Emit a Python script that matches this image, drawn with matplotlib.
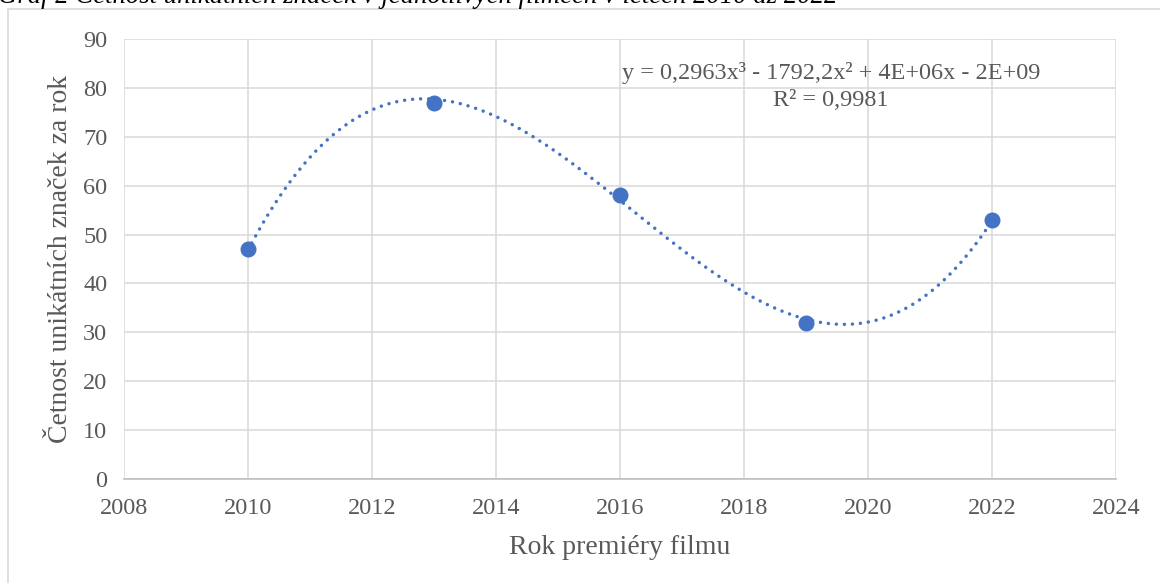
import numpy as np
import matplotlib.pyplot as plt
from matplotlib.patches import Rectangle

plt.rcParams['font.family'] = ['Liberation Serif', 'DejaVu Serif']

years = [2010, 2013, 2016, 2019, 2022]
counts = [47, 77, 58, 32, 53]
x_ticks = list(range(2008, 2025, 2))
y_ticks = list(range(0, 91, 10))

title = 'Graf 2 Četnost unikátních značek v jednotlivých filmech v letech 2010 až 2022'
equation = 'y = 0,2963x³ - 1792,2x² + 4E+06x - 2E+09\nR² = 0,9981'

blue = '#4472C4'
grey_text = '#595959'
grid_col = '#D9D9D9'

fig = plt.figure(figsize=(11.6, 5.83), dpi=100)
ax = fig.add_axes([0.1069, 0.1784, 0.8552, 0.7547])

# outer chart frame, cut off by the picture on the right and bottom
fig.patches.append(Rectangle((8 / 1160, -0.05), 1.2, 1 - 9 / 583 + 0.05,
                             transform=fig.transFigure, fill=False,
                             edgecolor=grid_col, linewidth=1.2))

# title partly clipped by the top edge
fig.text(-0.002, 1 - 3 / 583, title, fontsize=19.3, style='italic',
         color='black', ha='left', va='baseline')

# cubic trend line (Excel-like polynomial fit)
coef = np.polyfit(years, counts, 3)
xs = np.linspace(min(years), max(years), 300)
ax.plot(xs, np.polyval(coef, xs), color=blue, linewidth=2.5,
        linestyle=(0, (0.01, 2.3)), dash_capstyle='round', zorder=3)

ax.plot(years, counts, 'o', color=blue, markersize=10.5, zorder=4)

ax.set_xlim(2008, 2024)
ax.set_ylim(0, 90)
ax.set_xticks(x_ticks)
ax.set_yticks(y_ticks)
ax.grid(True, color=grid_col, linewidth=1.1)
ax.set_axisbelow(True)
for s in ['top', 'right', 'left']:
    ax.spines[s].set_visible(False)
ax.spines['bottom'].set_color('#BFBFBF')
ax.spines['bottom'].set_linewidth(1.2)
ax.tick_params(length=0, labelsize=17.5, colors=grey_text)
ax.tick_params(axis='x', pad=14)
ax.tick_params(axis='y', pad=12)

ax.set_xlabel('Rok premiéry filmu', fontsize=20, color=grey_text, labelpad=11)
ax.set_ylabel('Četnost unikátních značek za rok', fontsize=20,
              color=grey_text, labelpad=7)

ax.text(2019.4, 80.3, equation, fontsize=17.5, color=grey_text,
        ha='center', va='center', linespacing=1.4)

fig.savefig('out.png', dpi=100)
